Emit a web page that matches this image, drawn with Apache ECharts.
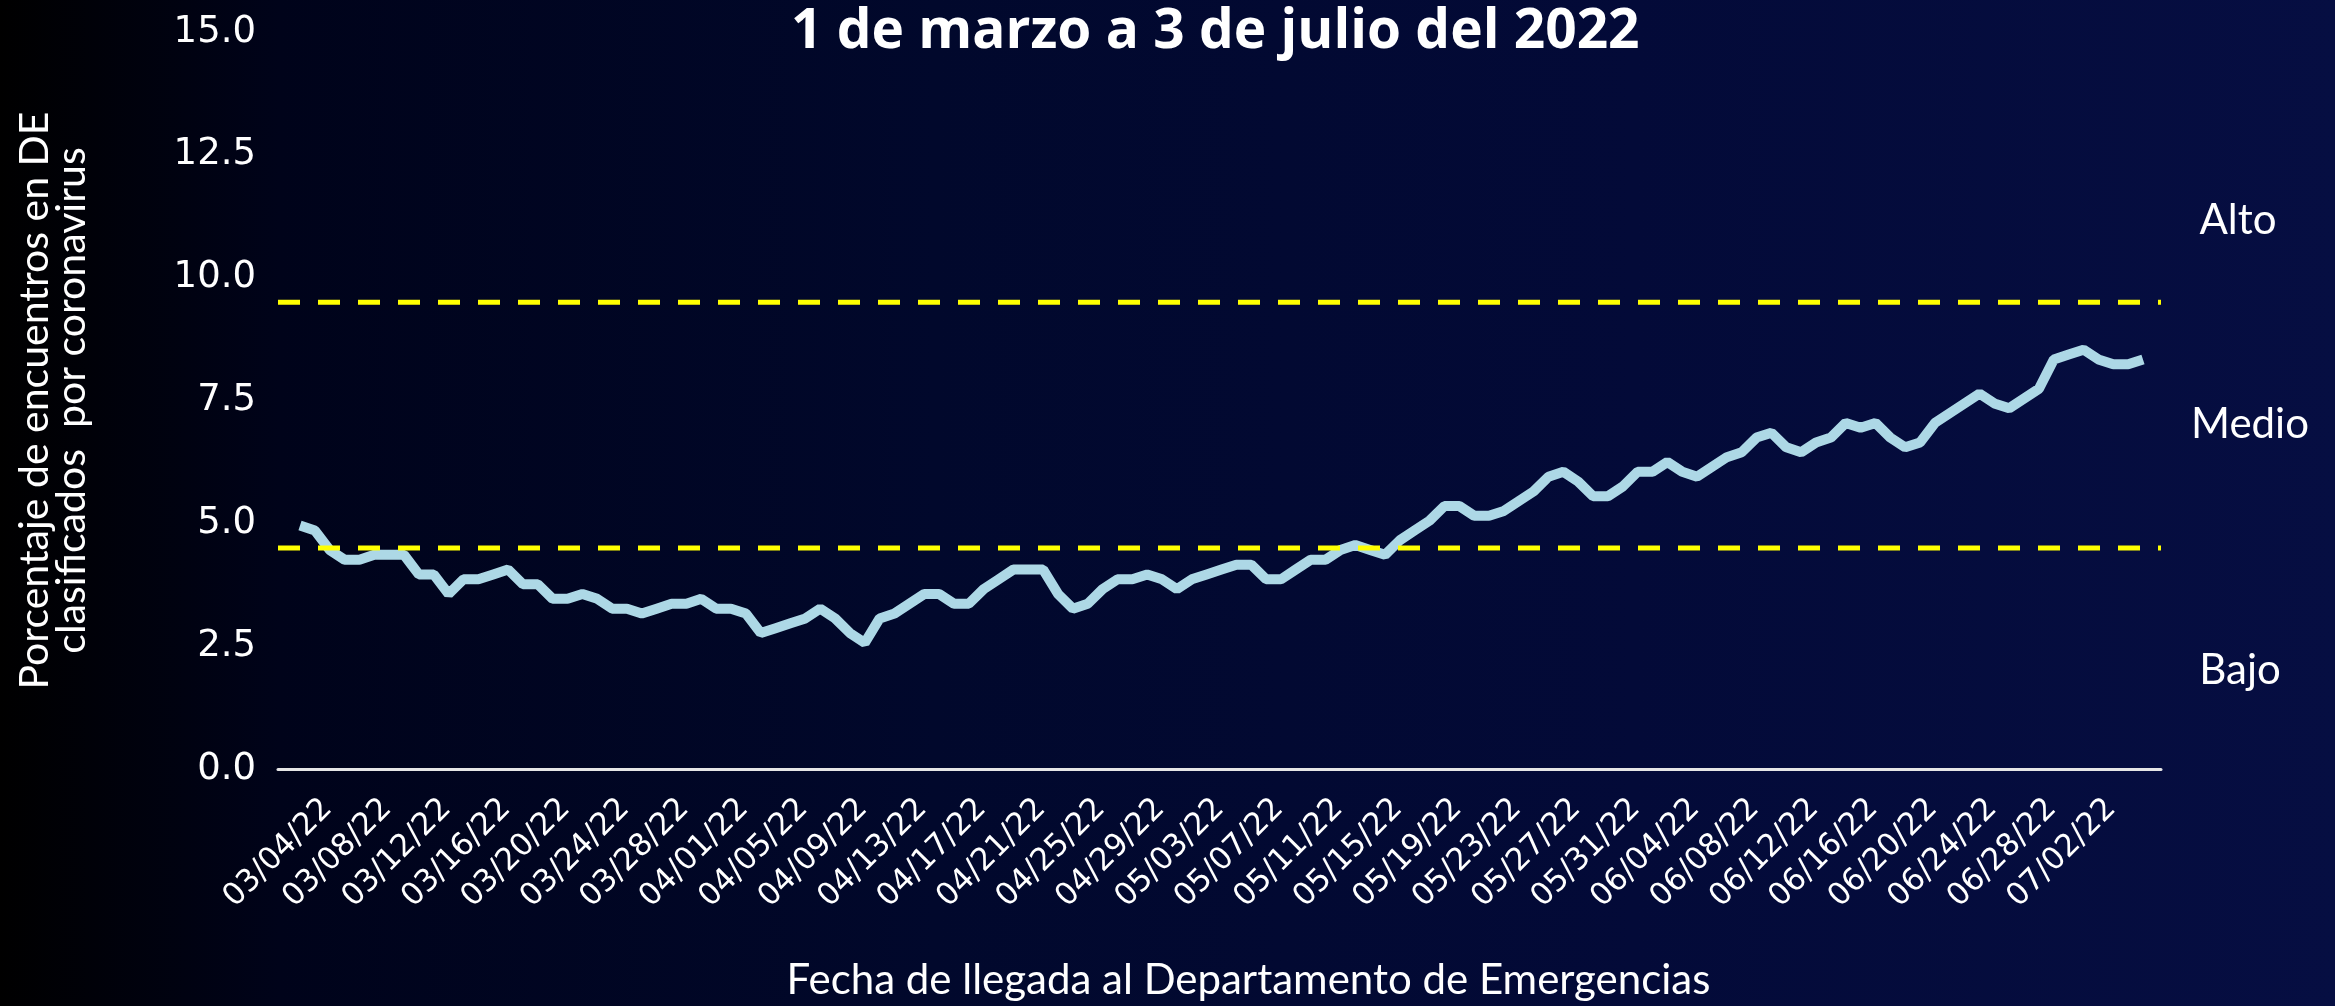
<!DOCTYPE html>
<html lang="es">

<head>
  <meta charset="UTF-8">
  <meta name="viewport" content="width=device-width, initial-scale=1.0">
  <title>Encuentros DE coronavirus</title>
  <style>
    html, body { margin: 0; padding: 0; background: #000; }
    #chart { width: 2335px; height: 1006px; }
  </style>
</head>
<script src="https://cdn.jsdelivr.net/npm/echarts@6/dist/echarts.min.js"></script>

<body>
  <div id="chart"></div>

  <script>
    // fechas: 1 de marzo a 3 de julio del 2022 (una por dia)
    var monthDays = [[3, 31], [4, 30], [5, 31], [6, 30], [7, 3]]
    var dates = []
    monthDays.forEach(function (m) {
      for (var d = 1; d <= m[1]; d++) {
        dates.push(('0' + m[0]).slice(-2) + '/' + ('0' + d).slice(-2) + '/22')
      }
    })

    // porcentaje diario
    var pctMarch = [4.9, 4.8, 4.4, 4.2, 4.2, 4.3, 4.3, 4.3, 3.9, 3.9, 3.5, 3.8, 3.8, 3.9, 4.0, 3.7,
      3.7, 3.4, 3.4, 3.5, 3.4, 3.2, 3.2, 3.1, 3.2, 3.3, 3.3, 3.4, 3.2, 3.2, 3.1]
    var pctApril = [2.7, 2.8, 2.9, 3.0, 3.2, 3.0, 2.7, 2.5, 3.0, 3.1, 3.3, 3.5, 3.5, 3.3, 3.3, 3.6,
      3.8, 4.0, 4.0, 4.0, 3.5, 3.2, 3.3, 3.6, 3.8, 3.8, 3.9, 3.8, 3.6, 3.8]
    var pctMay = [3.9, 4.0, 4.1, 4.1, 3.8, 3.8, 4.0, 4.2, 4.2, 4.4, 4.5, 4.4, 4.3, 4.6, 4.8, 5.0,
      5.3, 5.3, 5.1, 5.1, 5.2, 5.4, 5.6, 5.9, 6.0, 5.8, 5.5, 5.5, 5.7, 6.0, 6.0]
    var pctJune = [6.2, 6.0, 5.9, 6.1, 6.3, 6.4, 6.7, 6.8, 6.5, 6.4, 6.6, 6.7, 7.0, 6.9, 7.0, 6.7,
      6.5, 6.6, 7.0, 7.2, 7.4, 7.6, 7.4, 7.3, 7.5, 7.7, 8.3, 8.4, 8.5, 8.3]
    var pctJuly = [8.2, 8.2, 8.3]
    var pct = pctMarch.concat(pctApril, pctMay, pctJune, pctJuly)

    // umbrales Bajo / Medio / Alto
    var thresholds = [4.5, 9.5]
    var yTicks = [0, 2.5, 5, 7.5, 10, 12.5, 15]

    var mCharts = echarts.init(document.getElementById('chart'))

    var option = {
      animation: false,
      backgroundColor: {
        type: 'linear', x: 0, y: 0, x2: 1, y2: 0,
        colorStops: [
          { offset: 0, color: '#000000' },
          { offset: 0.12, color: '#00031a' },
          { offset: 0.4, color: '#01082c' },
          { offset: 0.7, color: '#030a38' },
          { offset: 1, color: '#060e42' }
        ]
      },
      title: {
        text: '1 de marzo a 3 de julio del 2022',
        left: 786,
        top: 0,
        textStyle: { color: '#ffffff', fontFamily: 'Open Sans', fontWeight: 'bold', fontSize: 55 }
      },
      grid: [
        // serie de datos
        { left: 300, right: 192, top: 32, bottom: 237 },
        // ejes y umbrales
        { left: 278, right: 174, top: 32, bottom: 237 }
      ],
      xAxis: [
        {
          type: 'category',
          gridIndex: 0,
          data: dates,
          boundaryGap: false,
          axisLine: { show: false },
          axisTick: { show: false },
          axisLabel: {
            interval: function (i) { return i % 4 === 3 },
            rotate: 45,
            margin: 22,
            padding: [0, 24, 0, 0],
            color: '#ffffff',
            fontFamily: 'DejaVu Sans',
            fontSize: 31
          },
          name: 'Fecha de llegada al Departamento de Emergencias',
          nameLocation: 'middle',
          nameGap: 194,
          nameTextStyle: { color: '#ffffff', fontFamily: 'Lato', fontSize: 42, padding: [0, 0, 0, 54] }
        },
        {
          type: 'value',
          gridIndex: 1,
          min: 0,
          max: 1,
          axisLine: { show: true, onZero: false, lineStyle: { color: '#e6e6e6', width: 3 } },
          axisTick: { show: false },
          axisLabel: { show: false },
          splitLine: { show: false }
        }
      ],
      yAxis: [
        {
          type: 'value',
          gridIndex: 0,
          min: 0,
          max: 15,
          show: false
        },
        {
          type: 'value',
          gridIndex: 1,
          min: yTicks[0],
          max: yTicks[yTicks.length - 1],
          interval: 2.5,
          axisLine: { show: false },
          axisTick: { show: false },
          splitLine: { show: false },
          axisLabel: {
            margin: 22,
            color: '#ffffff',
            fontFamily: 'DejaVu Sans',
            fontSize: 37,
            formatter: function (v) { return v.toFixed(1) }
          },
          name: 'Porcentaje de encuentros en DE\nclasificados  por coronavirus',
          nameLocation: 'middle',
          nameGap: 188,
          nameTextStyle: { color: '#ffffff', fontFamily: 'Lato', fontSize: 41, lineHeight: 37 }
        }
      ],
      graphic: [
        { type: 'text', x: 2238, y: 220, style: { text: 'Alto', fill: '#ffffff', font: '42px Lato', align: 'center', verticalAlign: 'middle' } },
        { type: 'text', x: 2250, y: 424, style: { text: 'Medio', fill: '#ffffff', font: '42px Lato', align: 'center', verticalAlign: 'middle' } },
        { type: 'text', x: 2240, y: 670, style: { text: 'Bajo', fill: '#ffffff', font: '42px Lato', align: 'center', verticalAlign: 'middle' } }
      ],
      series: [
        {
          name: 'Porcentaje',
          type: 'line',
          xAxisIndex: 0,
          yAxisIndex: 0,
          data: pct,
          symbol: 'none',
          lineStyle: { color: '#add8e6', width: 10 },
          z: 3
        }
      ].concat(thresholds.map(function (t) {
        return {
          type: 'line',
          xAxisIndex: 1,
          yAxisIndex: 1,
          data: [[0, t], [1, t]],
          symbol: 'none',
          lineStyle: { color: '#ffff00', width: 5, type: [22, 18] },
          z: 4
        }
      }))
    }

    mCharts.setOption(option)
    window.onresize = mCharts.resize
  </script>
</body>

</html>
